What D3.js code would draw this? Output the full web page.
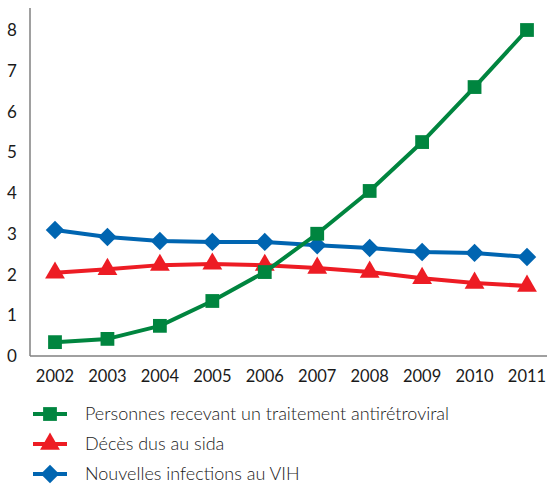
<!DOCTYPE html>
<html>
<head>
<meta charset="utf-8">
<script src="https://cdn.jsdelivr.net/npm/d3@7"></script>
<style>
  body { margin: 0; background: #fff; }
  text { font-family: Lato, "Open Sans", sans-serif; fill: #1a1a1a; }
</style>
</head>
<body>
<script>
/* ------------------------------- chart data ------------------------------- */
const years = ["2002", "2003", "2004", "2005", "2006", "2007", "2008", "2009", "2010", "2011"];
const treatment = [0.34, 0.42, 0.74, 1.35, 2.06, 3.0, 4.05, 5.25, 6.6, 8.0];
const deaths = [2.04, 2.13, 2.23, 2.26, 2.23, 2.16, 2.06, 1.91, 1.79, 1.72];
const infections = [3.09, 2.92, 2.82, 2.8, 2.8, 2.72, 2.65, 2.55, 2.53, 2.43];
const yTicks = [0, 1, 2, 3, 4, 5, 6, 7, 8];
const seriesNames = ["Personnes recevant un traitement antirétroviral", "Décès dus au sida", "Nouvelles infections au VIH"];

/* ------------------------------ document size ----------------------------- */
const width = 547, height = 490;
const margin = { left: 30, right: 0, top: 8, bottom: 134 };

const svg = d3.select("body").append("svg")
    .attr("width", width)
    .attr("height", height);

const x = d3.scalePoint().domain(years).range([55, 527]);
const y = d3.scaleLinear().domain([0, 8]).range([356, 30]);

/* ---------------------------------- axes ---------------------------------- */
svg.append("line")
    .attr("x1", margin.left).attr("x2", margin.left)
    .attr("y1", margin.top).attr("y2", y(0))
    .attr("stroke", "#808080").attr("stroke-width", 1.5);
svg.append("line")
    .attr("x1", margin.left).attr("x2", width)
    .attr("y1", y(0)).attr("y2", y(0))
    .attr("stroke", "#808080").attr("stroke-width", 1.5);

svg.selectAll(".ytick").data(yTicks).enter().append("text")
    .attr("class", "ytick")
    .attr("x", 12).attr("y", (d) => y(d))
    .attr("dy", "0.36em").attr("text-anchor", "middle")
    .style("font-size", "17px")
    .text((d) => d);

svg.selectAll(".xtick").data(years).enter().append("text")
    .attr("class", "xtick")
    .attr("x", (d) => x(d)).attr("y", 376)
    .attr("dy", "0.36em").attr("text-anchor", "middle")
    .style("font-size", "16.5px")
    .text((d) => d);

/* --------------------------------- series --------------------------------- */
const series = [
    { name: seriesNames[0], values: treatment, color: "#00853f", symbol: d3.symbolSquare, size: 190, rot: 0 },
    { name: seriesNames[1], values: deaths, color: "#ed1c24", symbol: d3.symbolTriangle, size: 170, rot: 0 },
    { name: seriesNames[2], values: infections, color: "#0065b1", symbol: d3.symbolSquare, size: 170, rot: 45 }
];

const line = d3.line()
    .x((d, i) => x(years[i]))
    .y((d) => y(d));

// draw back to front: blue, red, green on top
series.slice().reverse().forEach(function(s) {
    svg.append("path")
        .datum(s.values)
        .attr("d", line)
        .attr("fill", "none")
        .attr("stroke", s.color)
        .attr("stroke-width", 4)
        .attr("stroke-linejoin", "round");

    svg.selectAll(null).data(s.values).enter().append("path")
        .attr("d", d3.symbol().type(s.symbol).size(s.size))
        .attr("transform", (d, i) => "translate(" + x(years[i]) + "," + y(d) + ") rotate(" + s.rot + ")")
        .attr("fill", s.color);
});

/* --------------------------------- legend --------------------------------- */
const legend = svg.selectAll(".legend").data(series).enter().append("g")
    .attr("class", "legend")
    .attr("transform", (d, i) => "translate(0," + (414 + i * 30) + ")");

legend.append("line")
    .attr("x1", 33).attr("x2", 67)
    .attr("stroke", (d) => d.color)
    .attr("stroke-width", 4);

legend.append("path")
    .attr("d", (d) => d3.symbol().type(d.symbol).size(d.size)())
    .attr("transform", (d) => "translate(50,0) rotate(" + d.rot + ")")
    .attr("fill", (d) => d.color);

legend.append("text")
    .attr("x", 85).attr("dy", "0.35em")
    .style("font-size", "18px")
    .style("font-weight", 300)
    .text((d) => d.name);
</script>
</body>
</html>
